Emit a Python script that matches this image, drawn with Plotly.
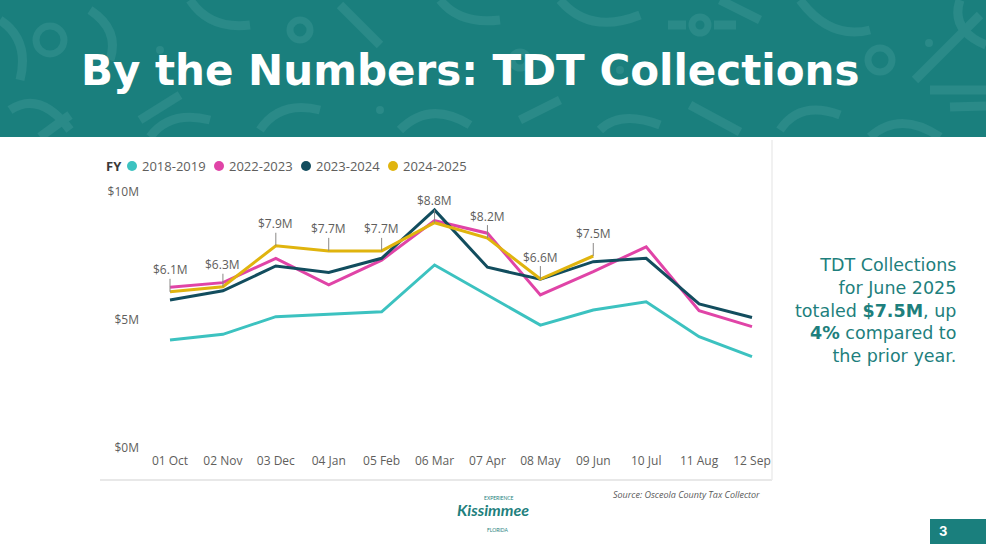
import plotly.graph_objects as go

# Monthly TDT collections, $M
months = ["01 Oct", "02 Nov", "03 Dec", "04 Jan", "05 Feb", "06 Mar",
          "07 Apr", "08 May", "09 Jun", "10 Jul", "11 Aug", "12 Sep"]

fy_2018_2019 = [4.22, 4.44, 5.13, 5.23, 5.32, 7.15, 5.98, 4.80, 5.39, 5.71, 4.35, 3.57]
fy_2022_2023 = [6.28, 6.46, 7.41, 6.37, 7.34, 8.88, 8.39, 5.98, 6.89, 7.86, 5.36, 4.74]
fy_2023_2024 = [5.78, 6.14, 7.11, 6.86, 7.41, 9.30, 7.06, 6.59, 7.28, 7.41, 5.63, 5.10]
fy_2024_2025 = [6.1, 6.3, 7.9, 7.7, 7.7, 8.8, 8.2, 6.6, 7.5]

series_names = ["2018-2019", "2022-2023", "2023-2024", "2024-2025"]
series_values = [fy_2018_2019, fy_2022_2023, fy_2023_2024, fy_2024_2025]
series_colors = ["#3CC2C0", "#E044A7", "#124D5E", "#E0B40E"]

ytick_vals = [0, 5, 10]
ytick_text = ["$0M", "$5M", "$10M"]

W, H = 986, 549
TEAL = "#1A7F7D"
PATTERN = "#2A8A88"
GRAY = "#605E5C"


def px(x):
    return x / W


def py(y):
    return 1 - y / H


# plot area in pixels: first month at x=170, last at x=752
x_left, x_right = 140, 780
first_x, last_x = 170, 752
unit = (last_x - first_x) / (len(months) - 1)
x_range = [-(first_x - x_left) / unit, len(months) - 1 + (x_right - last_x) / unit]

fig = go.Figure()

for name, vals, col in zip(series_names, series_values, series_colors):
    fig.add_trace(go.Scatter(
        x=months[:len(vals)], y=vals, mode="lines", name=name,
        line=dict(color=col, width=3), showlegend=False,
        hovertemplate="%{x}: $%{y:.1f}M<extra>" + name + "</extra>"
    ))

# data labels for the current fiscal year
for m, v in zip(months, fy_2024_2025):
    fig.add_annotation(
        x=m, y=v, text=f"${v:.1f}M", showarrow=True, arrowhead=0,
        arrowwidth=1, arrowcolor="#8A8886", ax=0, ay=-22, borderpad=0,
        font=dict(family="Open Sans", size=12, color=GRAY)
    )

# legend drawn by hand to match the Power BI look
fig.add_annotation(x=px(104), y=py(166), xref="paper", yref="paper", text="<b>FY</b>",
                   showarrow=False, xanchor="left", yanchor="middle",
                   font=dict(family="Open Sans", size=13, color="#3B3A39"))
leg_x = [132, 219, 306, 393]
shapes = []
for lx, name, col in zip(leg_x, series_names, series_colors):
    shapes.append(dict(type="circle", xref="paper", yref="paper",
                       x0=px(lx - 5), x1=px(lx + 5), y0=py(171), y1=py(161),
                       fillcolor=col, line=dict(width=0)))
    fig.add_annotation(x=px(lx + 8), y=py(166), xref="paper", yref="paper", text=name,
                       showarrow=False, xanchor="left", yanchor="middle",
                       font=dict(family="Open Sans", size=13, color=GRAY))

# header band with a loose doodle texture
shapes.append(dict(type="rect", xref="paper", yref="paper", x0=0, x1=1, y0=py(137), y1=1,
                   fillcolor=TEAL, line=dict(width=0), layer="below"))

curves = [  # (start, control, end) in pixels
    ((0, 20), (30, 40), (20, 80)), ((10, 110), (40, 90), (70, 130)),
    ((90, 10), (120, 30), (110, 60)), ((190, 0), (210, 30), (250, 25)),
    ((260, 130), (280, 100), (320, 110)), ((400, 130), (430, 100), (470, 125)),
    ((440, 0), (460, 25), (500, 20)), ((600, 130), (620, 110), (660, 125)),
    ((560, 0), (590, 35), (640, 15)), ((780, 130), (800, 100), (840, 115)),
    ((800, 0), (830, 40), (870, 30)), ((870, 137), (900, 110), (940, 137)),
    ((960, 0), (950, 30), (986, 45)), ((150, 137), (170, 110), (210, 120)),
]
straights = [
    ((140, 120), (180, 95)), ((340, 5), (380, 45)), ((520, 120), (560, 100)),
    ((690, 105), (740, 132)), ((668, 25), (686, 25)), ((714, 25), (736, 25)),
    ((915, 80), (980, 15)), ((930, 90), (986, 90)), ((950, 107), (986, 106)),
    ((40, 137), (70, 115)), ((720, 0), (760, 20)),
]
rings = [((50, 40), 14), ((300, 30), 10), ((520, 60), 8), ((700, 25), 8), ((880, 60), 12)]
dots = [((929, 43), 4), ((160, 50), 4), ((620, 70), 4), ((380, 110), 4)]


def pt(p):
    return f"{px(p[0]):.5f},{py(p[1]):.5f}"


for a, c, b in curves:
    shapes.append(dict(type="path", xref="paper", yref="paper", layer="below",
                       path=f"M {pt(a)} Q {pt(c)} {pt(b)}",
                       line=dict(color=PATTERN, width=9)))
for a, b in straights:
    shapes.append(dict(type="line", xref="paper", yref="paper", layer="below",
                       x0=px(a[0]), y0=py(a[1]), x1=px(b[0]), y1=py(b[1]),
                       line=dict(color=PATTERN, width=9)))
for (cx, cy), r in rings:
    shapes.append(dict(type="circle", xref="paper", yref="paper", layer="below",
                       x0=px(cx - r), x1=px(cx + r), y0=py(cy + r), y1=py(cy - r),
                       line=dict(color=PATTERN, width=7)))
for (cx, cy), r in dots:
    shapes.append(dict(type="circle", xref="paper", yref="paper", layer="below",
                       x0=px(cx - r), x1=px(cx + r), y0=py(cy + r), y1=py(cy - r),
                       fillcolor=PATTERN, line=dict(width=0)))

# white page below the header, panel edges, page number box
shapes += [
    dict(type="rect", xref="paper", yref="paper", x0=0, x1=1, y0=0, y1=py(137),
         fillcolor="white", line=dict(width=0), layer="below"),
    dict(type="line", xref="paper", yref="paper", x0=px(100), x1=px(772), y0=py(480), y1=py(480),
         line=dict(color="#E1E1E1", width=1.5)),
    dict(type="line", xref="paper", yref="paper", x0=px(772), x1=px(772), y0=py(140), y1=py(480),
         line=dict(color="#EDEDED", width=1.5)),
    dict(type="rect", xref="paper", yref="paper", x0=px(930), x1=1.01, y0=py(544), y1=py(519),
         fillcolor=TEAL, line=dict(width=0)),
]

fig.add_annotation(x=px(79), y=py(70), xref="paper", yref="paper",
                   text="<b>By the Numbers: TDT Collections</b>", showarrow=False,
                   xanchor="left", yanchor="middle",
                   font=dict(family="DejaVu Sans", size=42, color="white"))

fig.add_annotation(x=px(958), y=py(310), xref="paper", yref="paper",
                   text="TDT Collections<br>for June 2025<br>totaled <b>$7.5M</b>, up<br>"
                        "<b>4%</b> compared to<br>the prior year.",
                   showarrow=False, xanchor="right", yanchor="middle", align="right",
                   font=dict(family="DejaVu Sans", size=17.5, color="#1E7F7D"))

fig.add_annotation(x=px(762), y=py(494), xref="paper", yref="paper",
                   text="<i>Source: Osceola County Tax Collector</i>", showarrow=False,
                   xanchor="right", yanchor="middle",
                   font=dict(family="Open Sans", size=9, color="#595959"))

# logo as text
fig.add_annotation(x=px(493), y=py(520), xref="paper", yref="paper",
                   text="<i><b>Kissimmee</b></i>", showarrow=False, borderpad=0,
                   font=dict(family="Lato", size=16, color="#1E7F7D"))
fig.add_annotation(x=px(499), y=py(502), xref="paper", yref="paper",
                   text="EXPERIENCE", showarrow=False, borderpad=0,
                   font=dict(family="Lato", size=5, color="#1E7F7D"))
fig.add_annotation(x=px(497), y=py(534), xref="paper", yref="paper",
                   text="FLORIDA", showarrow=False, borderpad=0,
                   font=dict(family="Lato", size=5, color="#1E7F7D"))

fig.add_annotation(x=px(943), y=py(531), xref="paper", yref="paper",
                   text="<b>3</b>", showarrow=False, xanchor="center", yanchor="middle",
                   font=dict(family="Inter", size=13, color="white"))

fig.update_layout(
    width=W, height=H,
    margin=dict(l=0, r=0, t=0, b=0, autoexpand=False),
    paper_bgcolor="white", plot_bgcolor="rgba(0,0,0,0)",
    shapes=shapes,
    xaxis=dict(domain=[px(x_left), px(x_right)], range=x_range, type="category",
               showgrid=False, zeroline=False, showline=False, ticks="", automargin=False,
               ticklabelstandoff=4,
               tickfont=dict(family="Open Sans", size=12, color=GRAY)),
    yaxis=dict(domain=[py(448), py(192)], range=[0, 10], tickvals=ytick_vals,
               ticktext=ytick_text, showgrid=False, zeroline=False, showline=False,
               ticks="", ticklabelstandoff=0, automargin=False,
               tickfont=dict(family="Open Sans", size=12, color=GRAY)),
    showlegend=False,
)

# the page's default 8px body margin would make the 986x549 figure overflow the window
fig.write_html("out.html", config={"displayModeBar": False},
               post_script="document.body.style.margin='0';")
